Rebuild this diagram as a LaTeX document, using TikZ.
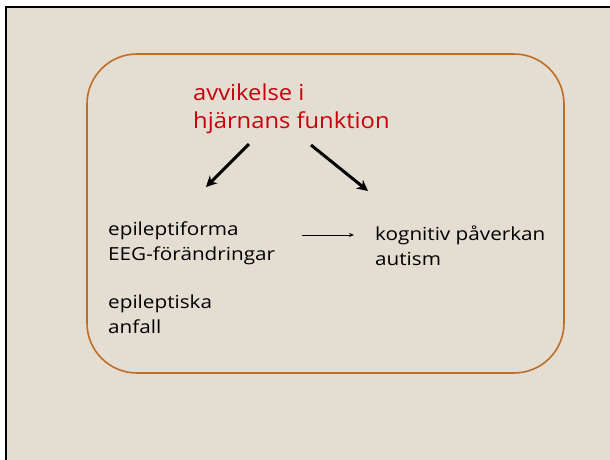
\documentclass[tikz,border=0pt]{standalone}
\usepackage{fontspec}
\setmainfont{Open Sans}
\usetikzlibrary{arrows.meta}
\definecolor{paper}{HTML}{E3DDD2}
\definecolor{frameorange}{HTML}{BF6E26}
\definecolor{titlered}{HTML}{C8000A}
\newfontfamily\bodyfont[FakeStretch=1.15]{Open Sans}
\newfontfamily\headfont[FakeStretch=1.08]{Open Sans}
\tikzset{
  bodytext/.style={anchor=north west, inner sep=0pt, align=left,
    font=\bodyfont\fontsize{18}{24.5}\selectfont, text=black},
  headtext/.style={anchor=north west, inner sep=0pt, align=left,
    font=\headfont\fontsize{22}{28}\selectfont, text=titlered},
  bigarrow/.style={line width=3pt, -{Stealth[length=11pt,width=11pt]}},
  smallarrow/.style={line width=1pt, -{Stealth[length=5pt,width=4pt]}}
}
\begin{document}
\begin{tikzpicture}[x=1pt,y=-1pt]
  \useasboundingbox (0,0) rectangle (610,459);
  % slide area and its frame
  \fill[white] (0,0) rectangle (610,459);
  \fill[paper] (6,7) rectangle (612,461);
  \draw[line width=2.4pt] (6,470) -- (6,7) -- (620,7);
  % rounded panel
  \draw[frameorange, line width=1.6pt, rounded corners=50pt] (87,54) rectangle (564,373);
  % texts
  \node[headtext] (cause) at (193,84) {avvikelse i\\hjärnans funktion};
  \node[bodytext] (eeg) at (108,222) {epileptiforma\\EEG-förändringar};
  \node[bodytext] (seiz) at (108,295) {epileptiska\\anfall};
  \node[bodytext] (cog) at (375,226) {kognitiv påverkan\\autism};
  % connectors
  \coordinate (l0) at (249,144);
  \coordinate (l1) at (206,187);
  \coordinate (r0) at (311,145);
  \coordinate (r1) at (368,191);
  \coordinate (m0) at (302,235);
  \coordinate (m1) at (354,235);
  \draw[bigarrow] (l0) -- (l1);
  \draw[bigarrow] (r0) -- (r1);
  \draw[smallarrow] (m0) -- (m1);
\end{tikzpicture}
\end{document}
